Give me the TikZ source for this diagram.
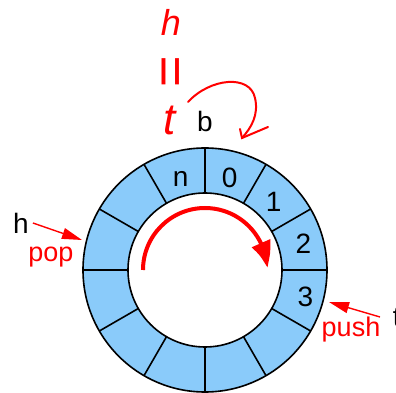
\documentclass[tikz,border=0pt]{standalone}
\usepackage{fontspec}
\setmainfont{Liberation Sans}
\usepackage{xcolor}
\usetikzlibrary{arrows.meta,bending}
\definecolor{ringBlue}{HTML}{8ACBFA}
\definecolor{markRed}{HTML}{FF0000}

\tikzset{
  slot/.style={font=\fontsize{28}{30}\selectfont},
  note/.style={font=\fontsize{27}{29}\selectfont,text=markRed},
  pointer/.style={draw=markRed,line width=1.4pt,-{Triangle[length=20pt,width=11pt]}},
  scribble/.style={font=\fontsize{36}{36}\selectfont\itshape,text=markRed}
}

\begin{document}
\begin{tikzpicture}[x=1pt,y=1pt,line width=1.6pt]
    \useasboundingbox (-205,-123) rectangle (191,270);
    % ring buffer
    \coordinate (c) at (0,0);
    \fill[ringBlue,even odd rule] (c) circle (122) (c) circle (77);
    \draw (c) circle (122);
    \draw (c) circle (77);
    \foreach \ang in {0,30,...,330}
      \draw (\ang:77) -- (\ang:122);
    \foreach \ang/\lbl/\rad in {105/n/94,75/0/95,45/1/97,15/2/102,-15/3/104}
      \node[slot] (slot\lbl) at (\ang:\rad) {\lbl};

    % direction of travel
    \draw[markRed,line width=4pt,-{Triangle[length=26pt,width=19pt,bend]}]
      (180:62) arc[start angle=180,end angle=2,radius=62];

    % labels round the ring
    \node[slot,anchor=base] (b) at (0,138) {b};
    \node[slot] (h) at (-184,47) {h};
    \node[note,anchor=base] (pop) at (-154,8) {pop};
    \coordinate (popTip) at (-123,30);
    \draw[pointer] (h.east) -- (popTip);
    \node[slot,anchor=base west,inner sep=0pt] (t) at (187,-57) {t};
    \node[note,anchor=base] (push) at (146,-67) {push};
    \coordinate (pushFrom) at (175,-47);
    \coordinate (pushTip) at (124,-32);
    \draw[pointer] (pushFrom) -- (pushTip);

    % hand-written note
    \node[scribble] (hw) at (-34,248) {h};
    \node[scribble,font=\fontsize{54}{54}\selectfont,rotate=90] (eq) at (-30,198) {=};
    \node[scribble,font=\fontsize{44}{44}\selectfont\itshape] (tw) at (-35,150) {t};
    \coordinate (loopFrom) at (-17,168);
    \coordinate (loopTip) at (37,132);
    \draw[markRed,line width=2pt,line cap=round]
      (loopFrom) .. controls (5,192) and (45,196) .. (50,172)
      .. controls (54,155) and (46,142) .. (loopTip);
    \draw[markRed,line width=2pt,line cap=round]
      (35,141) -- (loopTip) -- (63,143);
  \end{tikzpicture}
\end{document}
